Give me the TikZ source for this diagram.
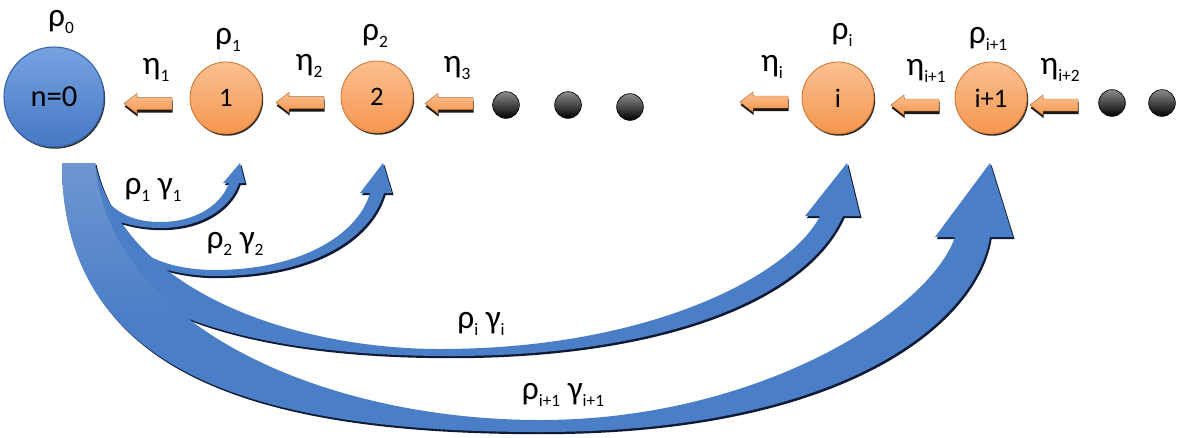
\documentclass[tikz,border=0pt]{standalone}
\usepackage{fontspec}
\setmainfont{Carlito}
\usetikzlibrary{shadows}
\definecolor{bluearr}{RGB}{74,126,198}
\definecolor{bandlight}{RGB}{112,150,210}
\definecolor{shadowc}{RGB}{16,26,52}
\definecolor{orangec}{RGB}{245,150,78}
\definecolor{orangel}{RGB}{251,192,145}
\definecolor{oranged}{RGB}{205,115,45}
\definecolor{bluel}{RGB}{118,162,224}
\definecolor{blued}{RGB}{70,120,196}
\definecolor{blueedge}{RGB}{55,98,165}
\newcommand{\mysub}[1]{\raisebox{-0.4ex}{\fontsize{13pt}{13pt}\selectfont #1}}
\newcommand{\arrowOne}{(62,163) .. controls (62,200) and (110,228) .. (160,228) .. controls (205,228) and (232,205) .. (239,183)
 -- (245,183) -- (240,163) -- (223,183) -- (229,183)
 .. controls (222,203) and (198,222) .. (160,222) .. controls (120,222) and (95,200) .. (95,163) -- cycle}
\newcommand{\arrowTwo}{(62,163) .. controls (62,220) and (130,276) .. (215,276) .. controls (310,276) and (370,240) .. (384,193)
 -- (392,193) -- (383,163) -- (360,193) -- (370,193)
 .. controls (358,235) and (300,270) .. (215,270) .. controls (140,270) and (97,230) .. (95,163) -- cycle}
\newcommand{\arrowI}{(62,163) .. controls (62,300) and (220,356) .. (450,356) .. controls (660,356) and (805,300) .. (843,216)
 -- (860,216) -- (847,163) -- (805,216) -- (820,216)
 .. controls (790,275) and (650,349) .. (440,349) .. controls (300,349) and (125,295) .. (95,163) -- cycle}
\newcommand{\arrowIone}{(62,163) .. controls (62,375) and (260,432) .. (540,432) .. controls (850,432) and (977,318) .. (990,237)
 -- (1013,237) -- (990,163) -- (935,237) -- (955,237)
 .. controls (930,310) and (760,420) .. (540,420) .. controls (330,420) and (110,330) .. (95,163) -- cycle}
\begin{document}
\begin{tikzpicture}[x=0.75pt,y=-0.75pt,
  lbl/.style={font=\fontsize{25pt}{29pt}\selectfont, inner sep=0pt},
  state/.style={circle, minimum size=54pt, inner sep=0pt, draw=oranged, line width=0.6pt,
    top color=orangel, bottom color=orangec,
    drop shadow={shadow xshift=0.9pt, shadow yshift=-1.3pt, fill=black!85, opacity=1},
    font=\fontsize{20pt}{24pt}\selectfont},
  bstate/.style={circle, minimum size=75pt, inner sep=0pt, draw=blueedge, line width=0.8pt,
    top color=bluel, bottom color=blued,
    drop shadow={shadow xshift=0.9pt, shadow yshift=-1.3pt, fill=black!80, opacity=1},
    font=\fontsize{23pt}{27pt}\selectfont},
  dotn/.style={circle, minimum size=20pt, inner sep=0pt, draw=black, line width=0.5pt,
    top color=black!45, bottom color=black},
  arrshadow/.style={fill=shadowc},
  arrfill/.style={fill=bluearr},
  larrow/.pic={
    \fill[black!90, shift={(0.5,3)}] (-24,0) -- (-11,-10) -- (-11,-6) -- (24,-6) -- (24,6) -- (-11,6) -- (-11,10) -- cycle;
    \fill[top color=orangel, bottom color=orangec, draw=oranged, line width=0.3pt] (-24,0) -- (-11,-10) -- (-11,-6) -- (24,-6) -- (24,6) -- (-11,6) -- (-11,10) -- cycle;
  }
]
\fill[white] (0,0) rectangle (1181,437);
\useasboundingbox (0,0) rectangle (1181,437);

% blue curved arrows (shadows first, then fills)
\begin{scope}[shift={(1.6,2.2)}]
  \fill[arrshadow] \arrowIone;
  \fill[arrshadow] \arrowI;
  \fill[arrshadow] \arrowTwo;
  \fill[arrshadow] \arrowOne;
\end{scope}
\fill[arrfill] \arrowIone;
\fill[arrfill] \arrowI;
\fill[arrfill] \arrowTwo;
\fill[arrfill] \arrowOne;
% lighter top of the common tail band
\begin{scope}
  \clip \arrowIone;
  \shade[top color=bandlight, bottom color=bluearr] (50,160) rectangle (200,320);
\end{scope}

% states
\node[bstate] (n0) at (54,97) {n=0};
\node[state] (s1) at (226,98) {1};
\node[state] (s2) at (377,97) {2};
\node[state] (si) at (838,98) {i};
\node[state] (si1) at (991,98) {i+1};

% dots
\node[dotn] (d1) at (506,105) {};
\node[dotn] (d2) at (568,105) {};
\node[dotn] (d3) at (630,107) {};
\node[dotn] (d4) at (1112,103) {};
\node[dotn] (d5) at (1162,103) {};

% orange transition arrows
\pic at (148,103.5) {larrow};
\pic at (300,102.5) {larrow};
\pic at (449,103.5) {larrow};
\pic at (764,102) {larrow};
\pic at (915,105) {larrow};
\pic at (1054,105) {larrow};

% labels
\node[lbl] (r0) at (61,22) {ρ\mysub{0}};
\node[lbl] (r1) at (228,40) {ρ\mysub{1}};
\node[lbl] (r2) at (375,36) {ρ\mysub{2}};
\node[lbl] (ri) at (842,35) {ρ\mysub{i}};
\node[lbl] (ri1) at (988,39) {ρ\mysub{i+1}};

\node[lbl] (e1) at (156,70) {η\mysub{1}};
\node[lbl] (e2) at (309,66) {η\mysub{2}};
\node[lbl] (e3) at (457,68) {η\mysub{3}};
\node[lbl] (ei) at (772,67) {η\mysub{i}};
\node[lbl] (ei1) at (926,71) {η\mysub{i+1}};
\node[lbl] (ei2) at (1060,70) {η\mysub{i+2}};

\node[lbl] (g1) at (153,190) {ρ\mysub{1} γ\mysub{1}};
\node[lbl] (g2) at (235,244) {ρ\mysub{2} γ\mysub{2}};
\node[lbl] (gi) at (481,324) {ρ\mysub{i} γ\mysub{i}};
\node[lbl] (gi1) at (563,395) {ρ\mysub{i+1} γ\mysub{i+1}};
\end{tikzpicture}
\end{document}
